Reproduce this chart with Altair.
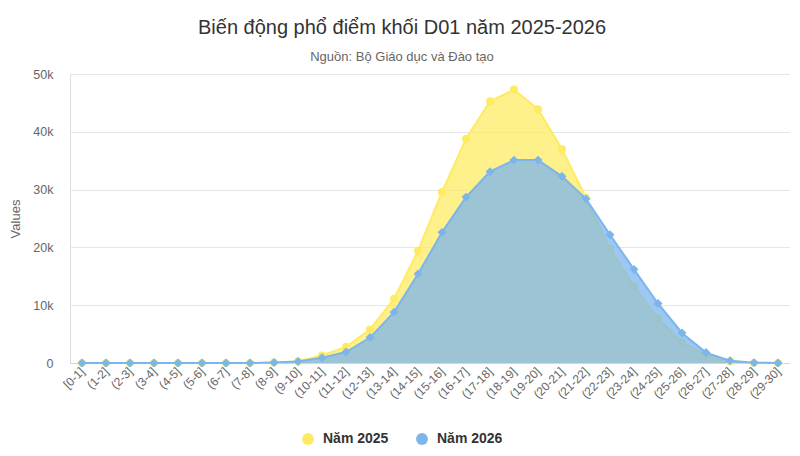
import altair as alt
import pandas as pd

categories = ["[0-1]"] + [f"({i}-{i+1}]" for i in range(1, 30)]
series_names = ["Năm 2025", "Năm 2026"]
values_2025 = [0, 0, 0, 0, 0, 0, 0, 0, 100, 300, 1300, 2800, 5800, 11100,
               19400, 29600, 38800, 45300, 47300, 43900, 37000, 28600, 19800,
               13300, 7700, 3600, 1400, 300, 50, 20]
values_2026 = [0, 0, 0, 0, 0, 0, 0, 0, 100, 250, 900, 1900, 4400, 8800,
               15400, 22600, 28700, 33100, 35100, 35100, 32300, 28400, 22200,
               16200, 10300, 5200, 1800, 400, 30, 10]
colors = ["#FEEB63", "#7CB5EC"]
y_ticks = [0, 10000, 20000, 30000, 40000, 50000]

FONT = "Liberation Sans"

df = pd.DataFrame({
    "cat": categories * 2,
    "series": [series_names[0]] * len(categories) + [series_names[1]] * len(categories),
    "value": values_2025 + values_2026,
})

color_scale = alt.Scale(domain=series_names, range=colors)

x_enc = alt.X("cat:N", sort=categories, title=None,
              scale=alt.Scale(type="point", padding=0.5),
              axis=alt.Axis(labelAngle=-45, labelAlign="right", labelBaseline="middle",
                            labelPadding=6, ticks=False, domainColor="#ccd6eb",
                            labelColor="#666666", labelFontSize=12, labelFont=FONT,
                            grid=False))
y_enc = alt.Y("value:Q", title="Values",
              scale=alt.Scale(domain=[0, 50000], nice=False),
              axis=alt.Axis(values=y_ticks,
                            labelExpr="datum.value == 0 ? '0' : format(datum.value / 1000, 'd') + 'k'",
                            ticks=False, domain=False,
                            gridColor="#e6e6e6", labelColor="#666666", labelFontSize=12.5,
                            labelFont=FONT, labelPadding=17, titleColor="#666666",
                            titleFont=FONT, titleFontSize=13, titleFontWeight="normal",
                            titlePadding=10))
color_enc = alt.Color("series:N", scale=color_scale, title=None,
                      legend=alt.Legend(orient="none", direction="horizontal",
                                        legendX=231, legendY=358,
                                        symbolType="circle", symbolSize=140,
                                        symbolOpacity=1, symbolStrokeWidth=0,
                                        labelFont=FONT, labelFontSize=14,
                                        labelFontWeight="bold", labelColor="#333333",
                                        labelOffset=8, columnPadding=26))

layers = []
for i, name in enumerate(series_names):
    base = alt.Chart(df).transform_filter(alt.datum.series == name).encode(
        x=x_enc, y=y_enc, color=color_enc)
    area = base.mark_area(fillOpacity=0.75, strokeWidth=0)
    line = base.mark_line(strokeWidth=2)
    if i == 0:
        pts = base.mark_point(shape="circle", filled=True, size=64, opacity=1)
    else:
        pts = base.mark_point(shape="diamond", filled=True, size=80, opacity=1)
    layers += [area, line, pts]

chart = alt.layer(*layers).properties(
    width=720, height=289,
    autosize=alt.AutoSizeParams(type="none"),
    padding={"left": 62, "top": 66, "right": 0, "bottom": 85},
    title=alt.TitleParams(
        text="Biến động phổ điểm khối D01 năm 2025-2026",
        subtitle="Nguồn: Bộ Giáo dục và Đào tạo",
        anchor="middle", dx=-28, offset=4,
        font=FONT, fontSize=20, fontWeight="normal", color="#333333",
        subtitleFont=FONT, subtitleFontSize=13, subtitleColor="#666666",
        subtitlePadding=13),
).configure_view(stroke=None).configure(background="white")

chart.save("out.html", embed_options={"renderer": "svg", "actions": False})
